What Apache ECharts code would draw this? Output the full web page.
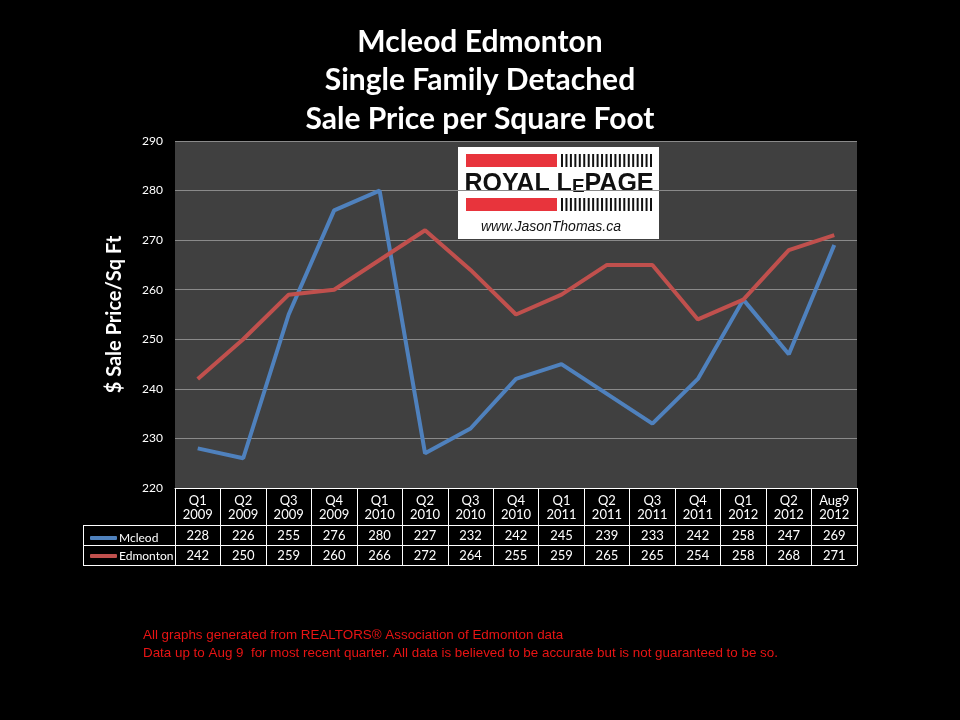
<!DOCTYPE html>
<html>
<head>
<meta charset="utf-8">
<script src="https://cdn.jsdelivr.net/npm/echarts@6/dist/echarts.min.js"></script>
<style>
  html, body { margin: 0; padding: 0; background: #000; }
  #main { width: 960px; height: 720px; }
</style>
</head>
<body>
<div id="main"></div>
<script>
// chart data
var quarters = ['Q1\n2009', 'Q2\n2009', 'Q3\n2009', 'Q4\n2009', 'Q1\n2010', 'Q2\n2010', 'Q3\n2010', 'Q4\n2010',
  'Q1\n2011', 'Q2\n2011', 'Q3\n2011', 'Q4\n2011', 'Q1\n2012', 'Q2\n2012', 'Aug9\n2012']
var mcleod = [228, 226, 255, 276, 280, 227, 232, 242, 245, 239, 233, 242, 258, 247, 269]
var edmonton = [242, 250, 259, 260, 266, 272, 264, 255, 259, 265, 265, 254, 258, 268, 271]
var seriesNames = ['Mcleod', 'Edmonton']
var titleLines = ['Mcleod Edmonton', 'Single Family Detached', 'Sale Price per Square Foot']
var footLines = [
  'All graphs generated from REALTORS\u00ae Association of Edmonton data',
  'Data up to Aug 9  for most recent quarter. All data is believed to be accurate but is not guaranteed to be so.'
]

var font = 'Lato, "Open Sans", sans-serif'
var blue = '#4F81BD'
var red = '#C0504D'

// logo stripes (decoration only)
var stripes = []
for (var s = 0; s < 21; s++) {
  stripes.push({ type: 'rect', shape: { x: 561 + s * 4.45, y: 154, width: 2, height: 13 }, style: { fill: '#111' } })
  stripes.push({ type: 'rect', shape: { x: 561 + s * 4.45, y: 198, width: 2, height: 13 }, style: { fill: '#111' } })
}

var chart = echarts.init(document.getElementById('main'))

function valueAxis (values, offset) {
  return {
    type: 'category',
    data: values,
    position: 'bottom',
    offset: offset,
    boundaryGap: true,
    axisLine: { show: true, lineStyle: { color: '#fff', width: 1 } },
    axisTick: { show: false },
    axisLabel: { show: values.length > 0, color: '#fff', fontSize: 13, fontFamily: font, margin: 4, interval: 0 },
    splitLine: { show: false }
  }
}

chart.setOption({
  backgroundColor: '#000',
  animation: false,
  title: {
    text: titleLines.join('\n'),
    left: 'center',
    top: 18,
    textStyle: { color: '#fff', fontSize: 30, fontWeight: 'bold', fontFamily: font, lineHeight: 38.5 }
  },
  legend: {
    orient: 'vertical',
    left: 85,
    top: 527,
    itemGap: 6,
    itemWidth: 27,
    itemHeight: 4,
    icon: 'roundRect',
    data: seriesNames,
    textStyle: { color: '#fff', fontSize: 12, fontFamily: font, padding: [0, 0, 0, -3] }
  },
  grid: {
    left: 175,
    right: 103,
    top: 141,
    bottom: 232,
    show: true,
    backgroundColor: '#404040',
    borderWidth: 0
  },
  xAxis: [
    {
      type: 'category',
      data: quarters,
      position: 'bottom',
      boundaryGap: true,
      axisLine: { show: true, lineStyle: { color: '#fff', width: 1 } },
      axisTick: { show: true, inside: false, length: 77, lineStyle: { color: '#fff', width: 1 } },
      axisLabel: { color: '#fff', fontSize: 13, fontFamily: font, lineHeight: 14, margin: 6, interval: 0 },
      splitLine: { show: false }
    },
    valueAxis(mcleod, 37),
    valueAxis(edmonton, 57),
    valueAxis([], 77)
  ],
  yAxis: {
    type: 'value',
    min: 220,
    max: 290,
    interval: 10,
    name: '$ Sale Price/Sq Ft',
    nameLocation: 'middle',
    nameRotate: 90,
    nameGap: 50,
    nameTextStyle: { color: '#fff', fontSize: 20, fontWeight: 'bold', fontFamily: font },
    axisLine: { show: false },
    axisTick: { show: false },
    axisLabel: { color: '#fff', fontSize: 12, fontFamily: font, margin: 12 },
    splitLine: { lineStyle: { color: '#8a8a8a', width: 1 } }
  },
  series: [
    {
      name: seriesNames[0],
      type: 'line',
      data: mcleod,
      symbol: 'none',
      itemStyle: { color: blue },
      lineStyle: { color: blue, width: 4 }
    },
    {
      name: seriesNames[1],
      type: 'line',
      data: edmonton,
      symbol: 'none',
      itemStyle: { color: red },
      lineStyle: { color: red, width: 4 }
    }
  ],
  graphic: [
    // left column of the data table
    { type: 'line', shape: { x1: 83, y1: 525.5, x2: 175, y2: 525.5 }, style: { stroke: '#fff', lineWidth: 1 } },
    { type: 'line', shape: { x1: 83, y1: 545.5, x2: 175, y2: 545.5 }, style: { stroke: '#fff', lineWidth: 1 } },
    { type: 'line', shape: { x1: 83, y1: 565.5, x2: 175, y2: 565.5 }, style: { stroke: '#fff', lineWidth: 1 } },
    { type: 'line', shape: { x1: 83.5, y1: 525, x2: 83.5, y2: 566 }, style: { stroke: '#fff', lineWidth: 1 } },
    // logo
    {
      type: 'group',
      z: 100,
      children: [
        { type: 'rect', shape: { x: 458, y: 147, width: 201, height: 92 }, style: { fill: '#fff' } },
        { type: 'rect', shape: { x: 466, y: 154, width: 91, height: 13 }, style: { fill: '#E8343C' } },
        { type: 'rect', shape: { x: 466, y: 198, width: 91, height: 13 }, style: { fill: '#E8343C' } },
        {
          type: 'text',
          style: {
            x: 559, y: 184, text: 'ROYAL L{s|E}PAGE', fill: '#111', align: 'center', verticalAlign: 'middle',
            font: 'bold 25px "Liberation Sans", Arial, sans-serif',
            rich: { s: { fontSize: 19, fontWeight: 'bold', fontFamily: '"Liberation Sans", Arial, sans-serif', fill: '#111', padding: [6, 0, 0, 0] } }
          }
        },
        {
          type: 'text',
          style: {
            x: 551, y: 227, text: 'www.JasonThomas.ca', fill: '#111', align: 'center', verticalAlign: 'middle',
            font: 'italic 14px "Liberation Sans", Arial, sans-serif'
          }
        }
      ].concat(stripes)
    },
    // footnote
    {
      type: 'text',
      left: 143,
      top: 626,
      style: {
        text: footLines.join('\n'),
        fill: '#E81414',
        font: '13.4px "Liberation Sans Narrow", "Liberation Sans", sans-serif',
        lineHeight: 18
      }
    }
  ]
})
</script>
</body>
</html>
